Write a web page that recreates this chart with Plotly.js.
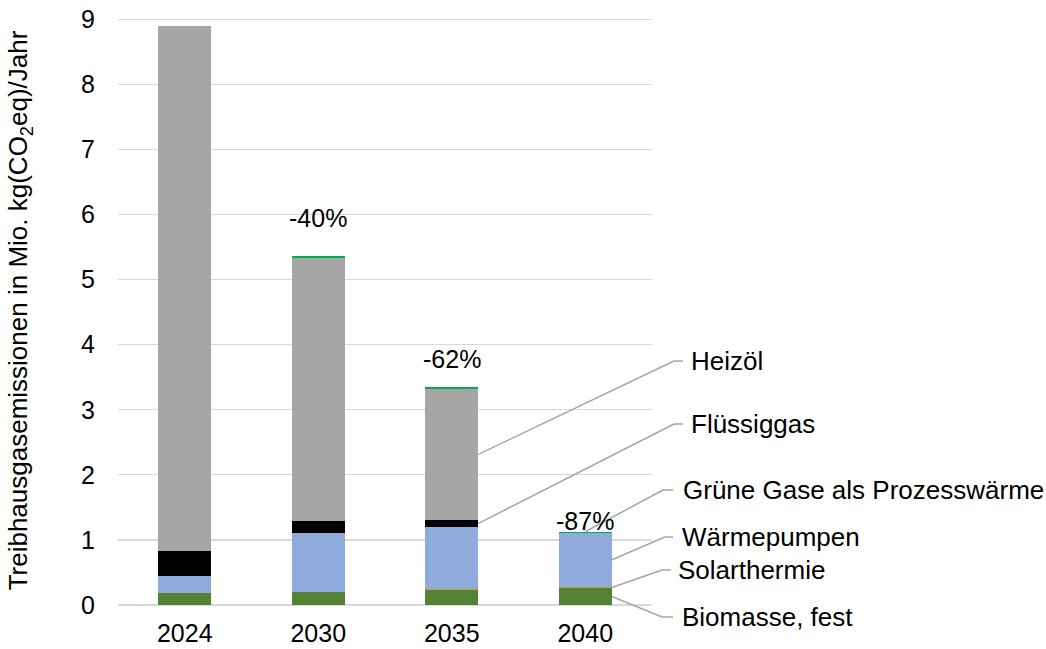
<!DOCTYPE html>
<html>
<head>
<meta charset="utf-8">
<script src="https://cdn.plot.ly/plotly-3.0.1.min.js"></script>
<style>html,body{margin:0;padding:0;background:#fff;}#chart{width:1046px;height:649px;}</style>
</head>
<body>
<div id="chart"></div>
<script>
// ---- data ----
const years = ["2024", "2030", "2035", "2040"];
const biomasse = [0.19, 0.205, 0.23, 0.26];
const solarthermie = [0, 0, 0.02, 0.02];
const waermepumpen = [0.25, 0.90, 0.95, 0.83];
const fluessiggas = [0.39, 0.19, 0.11, 0];
const heizoel = [8.06, 4.04, 2.01, 0];
const grueneGase = [0, 0.025, 0.025, 0.015];
const changeLabels = ["", "-40%", "-62%", "-87%"];

const seriesNames = ["Biomasse, fest", "Solarthermie", "Wärmepumpen", "Flüssiggas", "Heizöl", "Grüne Gase als Prozesswärme"];
const seriesValues = [biomasse, solarthermie, waermepumpen, fluessiggas, heizoel, grueneGase];
const seriesColors = ["#548235", "#C9A227", "#8FAADC", "#000000", "#A6A6A6", "#00B050"];

const FONT = "Liberation Sans, Arial, sans-serif";
const W = 1046, H = 649;
const plotL = 118, plotR = 652, plotT = 16, plotB = 605;
const yTop = 9.05;

const traces = seriesNames.map((n, i) => ({
  type: "bar",
  name: n,
  x: years,
  y: seriesValues[i],
  marker: {color: seriesColors[i]}
}));

// cumulative stacks (for leader-line anchors and percent labels)
const cum = years.map((_, j) => {
  let s = 0; const arr = [];
  seriesValues.forEach(v => { arr.push([s, s + v[j]]); s += v[j]; });
  return arr;
});
const totals = years.map((_, j) => seriesValues.reduce((a, v) => a + v[j], 0));

const toPx = x => (x - plotL) / (plotR - plotL);
const toPy = y => (plotB - y) / (plotB - plotT);

const annotations = [];
const pctShift = [0, 38, 28, 11];
years.forEach((yr, j) => {
  if (changeLabels[j]) {
    annotations.push({
      x: j, y: totals[j], xref: "x", yref: "y", text: changeLabels[j],
      showarrow: false, yanchor: "middle", yshift: pctShift[j],
      font: {family: FONT, size: 25, color: "#000"}
    });
  }
});

// [seriesIndex, yearIndex, anchor, elbowX, elbowY, endX, textX]
const leaders = [
  [4, 2, "right", 674, 361, 683, 689],
  [3, 2, "right", 674, 424, 683, 689],
  [5, 3, "center", 663, 490, 673, 681],
  [2, 3, "right", 665, 537, 673, 680],
  [1, 3, "right", 662, 570, 671, 676],
  [0, 3, "right", 662, 617, 673, 680]
];
const barHalf = 0.2;
const shapes = [];
const lineStyle = {color: "#A6A6A6", width: 1.5};
leaders.forEach(l => {
  const [si, yi, side, ex, ey, endX, tx] = l;
  const seg = cum[yi][si];
  const yVal = side === "center" ? seg[1] : (seg[0] + seg[1]) / 2;
  const xIdx = yi + (side === "center" ? 0 : barHalf);
  const x0 = (xIdx + 0.5) / years.length;
  const y0 = yVal / yTop;
  shapes.push({type: "line", xref: "paper", yref: "paper", x0: x0, y0: y0, x1: toPx(ex), y1: toPy(ey), line: lineStyle});
  shapes.push({type: "line", xref: "paper", yref: "paper", x0: toPx(ex), y0: toPy(ey), x1: toPx(endX), y1: toPy(ey), line: lineStyle});
  annotations.push({
    xref: "paper", yref: "paper", x: toPx(tx), y: toPy(ey), text: seriesNames[si],
    showarrow: false, xanchor: "left", yanchor: "middle",
    font: {family: FONT, size: 26, color: "#000"}
  });
});

const layout = {
  width: W, height: H,
  margin: {l: plotL, r: W - plotR, t: plotT, b: H - plotB, pad: 0},
  barmode: "stack",
  bargap: 0.6,
  showlegend: false,
  font: {family: FONT, size: 25, color: "#000"},
  xaxis: {
    type: "category",
    showgrid: false, zeroline: false, showline: false,
    ticks: "", ticklabelstandoff: 11,
    tickfont: {family: FONT, size: 25, color: "#000"},
    automargin: false
  },
  yaxis: {
    range: [0, yTop], dtick: 1, tick0: 0,
    gridcolor: "#D9D9D9", gridwidth: 1.3,
    zeroline: true, zerolinecolor: "#D9D9D9", zerolinewidth: 1.3,
    ticks: "", ticklabelstandoff: 22,
    tickfont: {family: FONT, size: 25, color: "#000"},
    automargin: false,
    title: {text: "Treibhausgasemissionen in Mio. kg(CO<sub>2</sub>eq)/Jahr", standoff: 45, font: {family: FONT, size: 26, color: "#000"}}
  },
  shapes: shapes,
  annotations: annotations
};
Plotly.newPlot("chart", traces, layout, {staticPlot: true});
</script>
</body>
</html>
